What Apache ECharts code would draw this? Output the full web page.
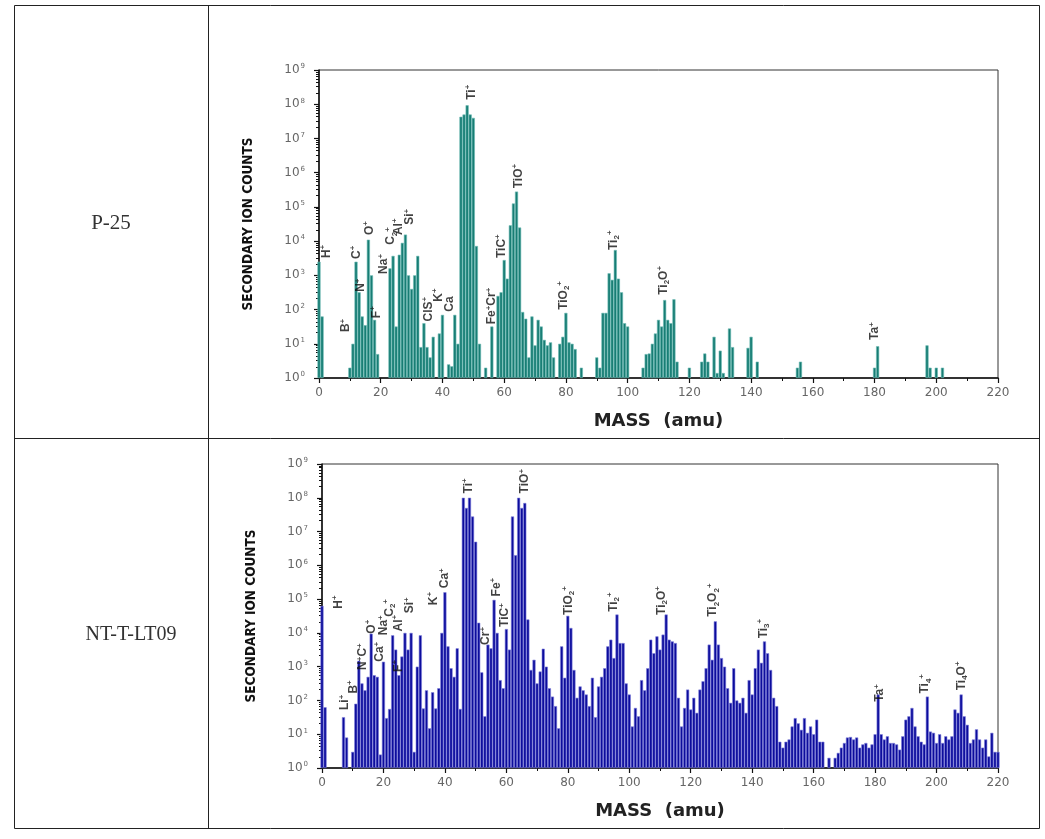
<!DOCTYPE html>
<html><head><meta charset="utf-8">
<script src="https://cdn.jsdelivr.net/npm/echarts@6/dist/echarts.min.js"></script>
<style>html,body{margin:0;padding:0;background:#fff}#c{width:1045px;height:839px}</style>
</head><body><div id="c"></div>
<script>
// ---------- DATA ----------
const rowNames = ['P-25', 'NT-T-LT09'];
const massTicks = [0, 20, 40, 60, 80, 100, 120, 140, 160, 180, 200, 220];
const xTitle = 'MASS  (amu)';
const yTitle = 'SECONDARY ION COUNTS';

// secondary ion counts per integer mass 0..220 (null = no signal)
const p25Counts = [
  2.5e3, 63, null, null, null, null, null, null, null, null,          // 0-9
  2, 10, 2.5e3, 320, 63, 35, 1.1e4, 1.0e3, 50, 5,                     // 10-19
  null, null, null, 1.6e3, 3.7e3, 32, 4.0e3, 8.9e3, 1.55e4, 1.0e3,   // 20-29
  400, 1.0e3, 3.7e3, 8, 40, 8, 4, 16, null, 20,                       // 30-39
  70, null, 2.5, 2.2, 70, 10, 4.3e7, 5.0e7, 9.3e7, 5.0e7,             // 40-49
  4.0e7, 7.2e3, 10, null, 2, null, 32, null, 250, 320,                // 50-59
  2.8e3, 800, 2.9e4, 1.26e5, 2.8e5, 2.5e4, 85, 54, 4, 63,             // 60-69
  9, 50, 32, 13, 9, 11, 4, null, 10, 16,                              // 70-79
  80, 11, 10, 7, null, 2, null, null, null, null,                     // 80-89
  4, 2, 80, 80, 1.15e3, 740, 5.5e3, 800, 320, 40,                     // 90-99
  32, null, null, null, null, 2, 5, 5.2, 10, 20,                      // 100-109
  50, 32, 190, 50, 40, 200, 3, null, null, null,                      // 110-119
  2, null, null, null, 3, 5.2, 3, null, 16, 1.4,                      // 120-129
  6.3, 1.4, null, 28, 8, null, null, null, null, 7.6,                 // 130-139
  16, null, 3, null, null, null, null, null, null, null,              // 140-149
  null, null, null, null, null, 2, 3, null, null, null,               // 150-159
  null, null, null, null, null, null, null, null, null, null,         // 160-169
  null, null, null, null, null, null, null, null, null, null,         // 170-179
  2, 8.5, null, null, null, null, null, null, null, null,             // 180-189
  null, null, null, null, null, null, null, 9, 2, null,               // 190-199
  2, null, 2, null, null, null, null, null, null, null,               // 200-209
  null, null, null, null, null, null, null, null, null, null,         // 210-219
  null                                                                // 220
];

const ntCounts = [
  6.3e4, 63, null, null, null, null, null, 32, 8, null,               // 0-9
  3, 80, 1.5e3, 320, 200, 500, 9.5e3, 560, 500, 2.5,                  // 10-19
  1.4e3, 30, 56, 8.5e3, 3.2e3, 560, 2.0e3, 1.0e4, 3.2e3, 1.0e4,       // 20-29
  3, 1.0e3, 8.5e3, 58, 200, 15, 175, 58, 230, 1.0e4,                  // 30-39
  1.6e5, 4.0e3, 900, 500, 3.5e3, 56, 1.0e8, 5.0e7, 1.0e8, 2.8e7,      // 40-49
  5.0e6, 2.0e4, 680, 34, 4.5e3, 3.5e3, 9.5e4, 1.0e4, 400, 230,        // 50-59
  1.3e4, 3.2e3, 2.8e7, 2.0e6, 1.0e8, 5.0e7, 7.0e7, 2.5e4, 800, 1.6e3, // 60-69
  320, 720, 3.4e3, 1.0e3, 230, 130, 68, 15, 4.0e3, 470,               // 70-79
  3.2e4, 1.4e4, 800, 120, 260, 200, 150, 68, 470, 32,                 // 80-89
  260, 500, 900, 4.0e3, 6.3e3, 1.8e3, 3.5e4, 5.0e3, 5.0e3, 320,       // 90-99
  150, 17, 60, 34, 400, 200, 900, 6.3e3, 2.5e3, 7.9e3,                // 100-109
  3.2e3, 8.9e3, 3.5e4, 6.3e3, 5.6e3, 5.0e3, 120, 17, 60, 210,         // 110-119
  54, 120, 43, 210, 370, 900, 4.5e3, 1.6e3, 2.2e4, 4.5e3,             // 120-129
  1.8e3, 1.0e3, 230, 85, 900, 100, 85, 120, 43, 400,                  // 130-139
  150, 900, 3.2e3, 1.3e3, 5.6e3, 2.5e3, 800, 120, 68, 6,              // 140-149
  4, 6, 7, 17, 30, 21, 13.5, 30, 11, 17,                              // 150-159
  10, 27, 6, 6, null, 2, null, 2, 2.8, 4,                             // 160-169
  5.5, 8, 8.3, 7, 8, 4, 5, 5.5, 4, 5,                                 // 170-179
  10, 150, 10, 7, 8.7, 5.5, 5.5, 5, 3.5, 8.7,                         // 180-189
  27, 34, 60, 17, 8.7, 6, 5, 130, 12, 11,                             // 190-199
  5.5, 10, 5.5, 8.7, 7, 8.7, 54, 43, 150, 34,                         // 200-209
  19, 5.5, 7, 14, 7, 4, 7, 2.2, 11, 3,                                // 210-219
  3                                                                   // 220
];

// peak annotations: [text, mass, counts at label base]
const p25Peaks = [
  ['H{p|+}', 2.5, 3.2e3], ['B{p|+}', 8.75, 22], ['C{p|+}', 12.2, 3.0e3],
  ['N{p|+}', 13.6, 330], ['O{p|+}', 16.3, 1.5e4], ['F{p|+}', 18.7, 56],
  ['Na{p|+}', 21, 1.1e3], ['C{b|2}{p|+}', 23.3, 7.8e3], ['Al{p|+}', 25.7, 1.5e4],
  ['Si{p|+}', 29.5, 3.0e4], ['ClS{p|+}', 35.4, 45], ['K{p|+}', 38.7, 170],
  ['Ca', 42.5, 87], ['Ti{p|+}', 49.5, 1.35e8], ['Fe{p|+}Cr{p|+}', 56, 37],
  ['TiC{p|+}', 59.2, 3.2e3], ['TiO{p|+}', 64.6, 3.5e5], ['TiO{b|2}{p|+}', 79.2, 98],
  ['Ti{b|2}{p|+}', 95.4, 5.5e3], ['Ti{b|2}O{p|+}', 111.6, 270], ['Ta{p|+}', 180.2, 13]
];
const ntPeaks = [
  ['H{p|+}', 5.3, 5.2e4], ['Li{p|+}', 7.5, 52], ['B{p|+}', 10.2, 160],
  ['N{p|+}C{p|+}', 13.4, 800], ['O{p|+}', 16.2, 9.5e3], ['Ca{p|+}', 18.9, 1.4e3],
  ['Na{p|+}', 20.2, 8.5e3], ['C{b|2}{p|+}', 21.9, 3.0e4], ['Al{p|+}', 24.8, 1.1e4],
  ['F{p|+}', 24.8, 700], ['Si{p|+}', 28.6, 3.8e4], ['K{p|+}', 36.2, 6.6e4],
  ['Ca{p|+}', 40, 2.1e5], ['Ti{p|+}', 47.6, 1.35e8], ['Cr{p|+}', 53.4, 4.4e3],
  ['Fe{p|+}', 56.8, 1.2e5], ['TiC{p|+}', 59.6, 1.5e4], ['TiO{p|+}', 66, 1.35e8],
  ['TiO{b|2}{p|+}', 80.2, 3.4e4], ['Ti{b|2}{p|+}', 94.8, 4.2e4], ['Ti{b|2}O{p|+}', 110.5, 3.4e4],
  ['Ti{b|2}O{b|2}{p|+}', 127.3, 3.0e4], ['Ti{b|3}{p|+}', 143.6, 6.9e3], ['Ta{p|+}', 181.6, 91],
  ['Ti{b|4}{p|+}', 196.2, 160], ['Ti{b|4}O{p|+}', 208.2, 200]
];

// ---------- CHART ----------
const toBars = arr => arr.map((v, m) => v == null ? null : [m, v]).filter(d => d);
const toLabels = arr => arr.map(p => ({ name: p[0], value: [p[1], p[2]] }));

const chart = echarts.init(document.getElementById('c'), null, { renderer: 'canvas' });

function xAxisCfg(gi) {
  return {
    type: 'value', gridIndex: gi, min: 0, max: 220, interval: 20,
    name: xTitle, nameLocation: 'middle', nameGap: 34,
    nameTextStyle: { fontFamily: 'DejaVu Sans, Arial', fontWeight: 'bold', fontSize: 18, color: '#222' },
    axisLine: { lineStyle: { color: '#111', width: 1.5 } },
    axisTick: { show: true, inside: false, length: 5, lineStyle: { color: '#111', width: 1.2 } },
    minorTick: { show: true, splitNumber: 2, length: 3, lineStyle: { color: '#111', width: 1 } },
    splitLine: { show: false }, minorSplitLine: { show: false },
    axisLabel: { margin: 9, fontFamily: 'DejaVu Sans, Arial', fontSize: 12, color: '#666',
      formatter: v => massTicks.includes(v) ? String(v) : '' }
  };
}
function yAxisCfg(gi) {
  return {
    type: 'log', logBase: 10, gridIndex: gi, min: 1, max: 1e9, splitNumber: 9,
    name: yTitle, nameLocation: 'middle', nameGap: 64, nameRotate: 90,
    nameTextStyle: { fontFamily: "'DejaVu Sans Condensed', 'Liberation Sans Narrow', Arial", fontWeight: 'bold', fontSize: 13.5, color: '#111' },
    axisLine: { show: true, lineStyle: { color: '#111', width: 1.5 } },
    axisTick: { show: true, inside: false, length: 5, lineStyle: { color: '#111', width: 1.2 } },
    minorTick: { show: true, splitNumber: 8, length: 3, lineStyle: { color: '#111', width: 1 } },
    splitLine: { show: false }, minorSplitLine: { show: false },
    axisLabel: {
      margin: 14, color: '#666', fontFamily: 'DejaVu Sans, Arial', fontSize: 12,
      formatter: v => '10{s|' + Math.round(Math.log10(v)) + '}',
      rich: { s: { fontSize: 7, color: '#666', verticalAlign: 'top', lineHeight: 14, padding: [0, 0, 6, 1] } }
    }
  };
}
function barSeries(gi, data, fill, edge) {
  return {
    type: 'bar', xAxisIndex: gi, yAxisIndex: gi, data: toBars(data),
    barWidth: '100%', barGap: '-100%', clip: true, animation: false,
    itemStyle: { color: fill, borderColor: edge, borderWidth: 0.6 }
  };
}
const richLbl = {
  p: { fontSize: 8, fontWeight: 'bold', color: '#111', fontFamily: 'Liberation Sans, Arial', verticalAlign: 'top', lineHeight: 15 },
  b: { fontSize: 8, fontWeight: 'bold', color: '#111', fontFamily: 'Liberation Sans, Arial', verticalAlign: 'bottom', lineHeight: 15 }
};
function labelSeries(gi, peaks) {
  return {
    type: 'scatter', xAxisIndex: gi, yAxisIndex: gi, data: toLabels(peaks),
    symbolSize: 0, silent: true, animation: false, z: 5,
    label: {
      show: true, position: 'inside', rotate: 90, align: 'left', verticalAlign: 'middle',
      formatter: p => p.name, fontFamily: 'Liberation Sans, Arial', fontWeight: 'bold',
      fontSize: 12, color: '#111', lineHeight: 15, rich: richLbl
    }
  };
}

const option = {
  backgroundColor: '#fff',
  animation: false,
  grid: [
    { left: 319, top: 70, width: 679, height: 308, show: true, borderColor: '#333', borderWidth: 1, containLabel: false },
    { left: 322, top: 464, width: 676, height: 304, show: true, borderColor: '#333', borderWidth: 1, containLabel: false }
  ],
  xAxis: [xAxisCfg(0), xAxisCfg(1)],
  yAxis: [yAxisCfg(0), yAxisCfg(1)],
  series: [
    barSeries(0, p25Counts, '#177d74', '#6fbcb5'),
    labelSeries(0, p25Peaks),
    barSeries(1, ntCounts, '#0c0c9c', '#7f7fdc'),
    labelSeries(1, ntPeaks)
  ],
  graphic: [
    { type: 'rect', shape: { x: 14.5, y: 5.5, width: 1025, height: 823 }, style: { fill: 'none', stroke: '#222', lineWidth: 1 }, silent: true },
    { type: 'line', shape: { x1: 208.5, y1: 5.5, x2: 208.5, y2: 828.5 }, style: { stroke: '#222', lineWidth: 1 }, silent: true },
    { type: 'line', shape: { x1: 14.5, y1: 438.5, x2: 1039.5, y2: 438.5 }, style: { stroke: '#222', lineWidth: 1 }, silent: true },
    { type: 'text', x: 111, y: 223, silent: true,
      style: { text: rowNames[0], fontFamily: "'Liberation Serif', 'DejaVu Serif', serif", fontSize: 21, fill: '#333', align: 'center', verticalAlign: 'middle' } },
    { type: 'text', x: 131, y: 635, silent: true,
      style: { text: rowNames[1], fontFamily: "'Liberation Serif', 'DejaVu Serif', serif", fontSize: 20, fill: '#333', align: 'center', verticalAlign: 'middle' } }
  ]
};
chart.setOption(option);
</script></body></html>
